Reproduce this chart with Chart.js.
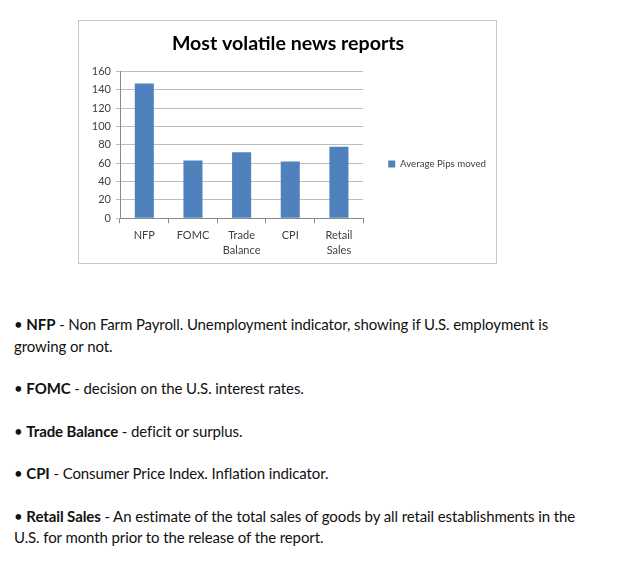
<!DOCTYPE html>
<html>
<head>
<meta charset="utf-8">
<script src="https://cdn.jsdelivr.net/npm/chart.js@4"></script>
<style>
  body { margin: 0; background: #fff; width: 625px; height: 568px; position: relative; overflow: hidden; }
  #box { position: absolute; left: 78px; top: 20px; width: 417px; height: 242px; border: 1px solid #c8c8c8; }
  #notes { position: absolute; left: 14px; top: 314px; font-family: Lato, sans-serif; font-size: 15px; line-height: 21.5px; color: #111; white-space: nowrap; letter-spacing: -0.1px; }
  #notes p { margin: 0 0 21px 0; }
  #notes b { font-weight: bold; }
</style>
</head>
<body>
<div id="box"><canvas id="myChart" width="417" height="242"></canvas></div>

<div id="notes">
  <p>&bull; <b>NFP</b> - Non Farm Payroll. Unemployment indicator, showing if U.S. employment is<br>growing or not.</p>
  <p>&bull; <b>FOMC</b> - decision on the U.S. interest rates.</p>
  <p>&bull; <b>Trade Balance</b> - deficit or surplus.</p>
  <p>&bull; <b>CPI</b> - Consumer Price Index. Inflation indicator.</p>
  <p>&bull; <b>Retail Sales</b> - An estimate of the total sales of goods by all retail establishments in the<br>U.S. for month prior to the release of the report.</p>
</div>

<script>
// datos del grafico
const categorias = ['NFP', 'FOMC', ['Trade', 'Balance'], 'CPI', ['Retail', 'Sales']]
const pipsPromedio = [147, 63, 72, 62, 78]
const ejeYMin = 0
const ejeYMax = 160
const ejeYPaso = 20
const nombreSerie = 'Average Pips moved'
const titulo = 'Most volatile news reports'

const dibujaGrafica = () => {
    const grafica = document.getElementById('myChart').getContext('2d')

    const myChart = new Chart(grafica, {
        type: 'bar',
        data: {
            labels: categorias,
            datasets: [{
                label: nombreSerie,
                data: pipsPromedio,
                backgroundColor: '#4F81BD',
                borderWidth: 0,
                barPercentage: 0.8,
                categoryPercentage: 0.49
            }]
        },
        options: {
            responsive: false,
            devicePixelRatio: 1,
            animation: false,
            layout: { padding: { left: 1, right: 0, top: 0, bottom: 0 } },
            plugins: {
                title: {
                    display: true,
                    text: titulo,
                    color: '#000',
                    font: { family: 'Lato', size: 19.6, weight: 'bold' },
                    padding: { top: 11, bottom: 16 }
                },
                legend: {
                    position: 'right',
                    maxWidth: 220,
                    // titulo vacio solo para bajar la leyenda
                    title: { display: true, text: ' ', font: { size: 10 }, padding: { top: 32, bottom: 0 } },
                    labels: {
                        boxWidth: 7,
                        boxHeight: 7,
                        padding: 5,
                        color: '#404040',
                        font: { family: 'Lato', size: 9.7 }
                    }
                },
                tooltip: { enabled: false }
            },
            scales: {
                x: {
                    grid: { display: true, drawOnChartArea: false, color: '#8a8a8a', tickLength: 5 },
                    border: { color: '#8a8a8a' },
                    ticks: { color: '#404040', font: { family: 'Lato', size: 11, lineHeight: 1.35 }, padding: 5, maxRotation: 0 }
                },
                y: {
                    min: ejeYMin,
                    max: ejeYMax,
                    grid: { color: '#bdbdbd', tickLength: 4 },
                    border: { color: '#8a8a8a' },
                    ticks: { stepSize: ejeYPaso, color: '#404040', font: { family: 'Lato', size: 11 }, padding: 5 },
                    afterFit: (eje) => { eje.width = 40 }
                },
                // eje vacio a la derecha: solo deja espacio antes de la leyenda
                hueco: {
                    position: 'right',
                    grid: { display: false },
                    border: { display: false },
                    ticks: { display: false },
                    afterFit: (eje) => { eje.width = 20 }
                }
            }
        }
    })
}

Promise.all([
    document.fonts.load('bold 20px Lato'),
    document.fonts.load('11px Lato')
]).then(dibujaGrafica, dibujaGrafica)
</script>
</body>
</html>
